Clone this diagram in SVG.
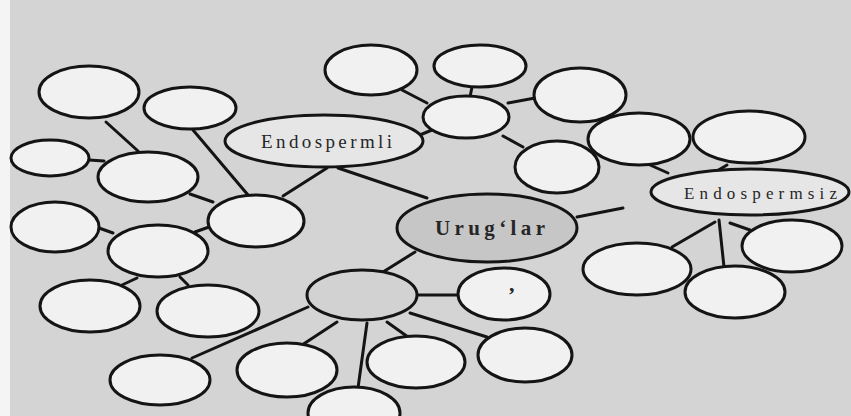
<svg xmlns="http://www.w3.org/2000/svg" width="851" height="416" viewBox="0 0 851 416">
<style>
.n{fill:#f1f1f1;stroke:#141414;stroke-width:3}
.g{fill:#c6c6c6;stroke:#141414;stroke-width:3}
.m{fill:#d2d2d2;stroke:#141414;stroke-width:3}
.l{fill:#e6e6e6;stroke:#141414;stroke-width:3}
.c line{stroke:#141414;stroke-width:3;stroke-linecap:round}
.t{font-family:"Liberation Serif","Times New Roman",serif;fill:#262626}
</style>
<rect width="851" height="416" fill="#d4d4d4"/>
<rect width="10" height="416" fill="#f4f4f4"/>
<g class="c" id="connectors">
<line x1="106" y1="122" x2="138" y2="151"/>
<line x1="89" y1="160" x2="104" y2="161"/>
<line x1="193" y1="130" x2="248" y2="195"/>
<line x1="190" y1="194" x2="213" y2="202"/>
<line x1="283" y1="196" x2="327" y2="168"/>
<line x1="338" y1="168" x2="427" y2="198"/>
<line x1="415" y1="137" x2="432" y2="130"/>
<line x1="402" y1="90" x2="427" y2="103"/>
<line x1="472" y1="87" x2="470" y2="97"/>
<line x1="508" y1="103" x2="535" y2="98"/>
<line x1="503" y1="136" x2="523" y2="147"/>
<line x1="577" y1="217" x2="623" y2="208"/>
<line x1="650" y1="165" x2="668" y2="173"/>
<line x1="727" y1="165" x2="705" y2="178"/>
<line x1="715" y1="222" x2="672" y2="247"/>
<line x1="719" y1="220" x2="724" y2="267"/>
<line x1="730" y1="223" x2="750" y2="230"/>
<line x1="415" y1="252" x2="383" y2="272"/>
<line x1="418" y1="295" x2="458" y2="295"/>
<line x1="410" y1="313" x2="487" y2="337"/>
<line x1="387" y1="322" x2="408" y2="337"/>
<line x1="367" y1="323" x2="358" y2="388"/>
<line x1="337" y1="322" x2="302" y2="345"/>
<line x1="308" y1="307" x2="192" y2="358"/>
<line x1="195" y1="232" x2="209" y2="227"/>
<line x1="99" y1="228" x2="113" y2="233"/>
<line x1="137" y1="278" x2="122" y2="285"/>
<line x1="180" y1="277" x2="188" y2="285"/>
</g>
<g id="n1"><ellipse class="n" cx="89" cy="92" rx="50" ry="26"/></g>
<g id="n2"><ellipse class="n" cx="190" cy="108" rx="46" ry="21"/></g>
<g id="n3"><ellipse class="n" cx="50" cy="158" rx="39" ry="18"/></g>
<g id="n4"><ellipse class="n" cx="148" cy="177" rx="50" ry="25"/></g>
<g id="endospermli"><ellipse class="l" cx="324" cy="141" rx="99" ry="26"/><text class="t" x="261" y="148" font-size="19" textLength="131" lengthAdjust="spacing">Endospermli</text></g>
<g id="n6"><ellipse class="n" cx="256" cy="221" rx="48" ry="26"/></g>
<g id="n7"><ellipse class="n" cx="55" cy="227" rx="44" ry="25"/></g>
<g id="n8"><ellipse class="n" cx="158" cy="251" rx="50" ry="26"/></g>
<g id="n9"><ellipse class="n" cx="90" cy="306" rx="50" ry="26"/></g>
<g id="n10"><ellipse class="n" cx="208" cy="311" rx="51" ry="26"/></g>
<g id="n11"><ellipse class="n" cx="371" cy="70" rx="46" ry="25"/></g>
<g id="n12"><ellipse class="n" cx="480" cy="66" rx="46" ry="21"/></g>
<g id="n13"><ellipse class="n" cx="466" cy="117" rx="43" ry="21"/></g>
<g id="n14"><ellipse class="n" cx="580" cy="95" rx="46" ry="27"/></g>
<g id="n15"><ellipse class="n" cx="557" cy="167" rx="42" ry="26"/></g>
<g id="uruglar"><ellipse class="g" cx="487" cy="228" rx="90" ry="34"/><text class="t" x="435" y="235" font-size="21" font-weight="bold" textLength="110" lengthAdjust="spacing">Urug‘lar</text></g>
<g id="n17"><ellipse class="m" cx="362" cy="295" rx="55" ry="25"/></g>
<g id="n18"><ellipse class="n" cx="504" cy="294" rx="46" ry="26"/><text class="t" x="509" y="291" font-size="22" font-weight="bold">,</text></g>
<g id="n19"><ellipse class="n" cx="525" cy="355" rx="47" ry="27"/></g>
<g id="n20"><ellipse class="n" cx="416" cy="362" rx="49" ry="26"/></g>
<g id="n21"><ellipse class="n" cx="354" cy="413" rx="46" ry="26"/></g>
<g id="n22"><ellipse class="n" cx="287" cy="370" rx="50" ry="27"/></g>
<g id="n23"><ellipse class="n" cx="160" cy="380" rx="50" ry="25"/></g>
<g id="n25"><ellipse class="n" cx="639" cy="139" rx="51" ry="26"/></g>
<g id="n26"><ellipse class="n" cx="749" cy="137" rx="56" ry="26"/></g>
<g id="endospermsiz"><ellipse class="l" cx="750" cy="192" rx="99" ry="23"/><text class="t" x="684" y="199" font-size="17" textLength="153" lengthAdjust="spacing">Endospermsiz</text></g>
<g id="n28"><ellipse class="n" cx="792" cy="246" rx="50" ry="26"/></g>
<g id="n29"><ellipse class="n" cx="637" cy="269" rx="54" ry="26"/></g>
<g id="n30"><ellipse class="n" cx="735" cy="292" rx="50" ry="26"/></g>
</svg>
